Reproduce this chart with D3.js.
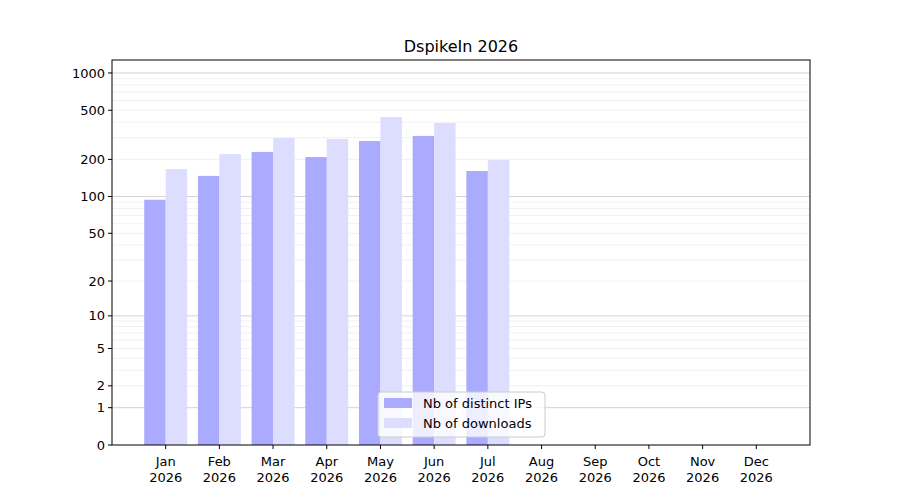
<!DOCTYPE html><html><head><meta charset="utf-8">
<script src="https://cdn.jsdelivr.net/npm/d3@7"></script>
<style>body{margin:0;background:#fff}text{font-family:"DejaVu Sans",sans-serif}</style></head><body>
<svg id="c" width="900" height="500"></svg>
<script>
const months=["Jan","Feb","Mar","Apr","May","Jun","Jul","Aug","Sep","Oct","Nov","Dec"];
const ips=[94,147,230,209,282,310,161];
const downloads=[167,221,298,293,441,394,198];
const yTicks=[0,1,2,5,10,20,50,100,200,500,1000];
const title="DspikeIn 2026";
const svg=d3.select("#c");
const L=112,R=810,T=60,B=445;
const x=d3.scaleLinear().domain([-1,12]).range([L,R]);
const f=v=>Math.log10(v+1);
const y=d3.scaleLinear().domain([0,3.105]).range([B,T]);
const yv=v=>y(f(v));
const minor=[];for(const d of [1,10,100])for(let k=2;k<=9;k++)minor.push(d*k);
svg.append("g").selectAll("line").data(minor).join("line").attr("x1",L).attr("x2",R)
 .attr("y1",d=>yv(d)).attr("y2",d=>yv(d)).attr("stroke","#eeeeee").attr("stroke-width",0.8);
svg.append("g").selectAll("line").data([1,10,100,1000]).join("line").attr("x1",L).attr("x2",R)
 .attr("y1",d=>yv(d)).attr("y2",d=>yv(d)).attr("stroke","#c8c8c8").attr("stroke-width",0.8);
const bw=(x(1)-x(0))*0.4;
svg.append("g").selectAll("rect").data(ips).join("rect").attr("x",(d,i)=>x(i)-bw).attr("width",bw)
 .attr("y",d=>yv(d)).attr("height",d=>B-yv(d)).attr("fill","#aaaaff");
svg.append("g").selectAll("rect").data(downloads).join("rect").attr("x",(d,i)=>x(i)).attr("width",bw)
 .attr("y",d=>yv(d)).attr("height",d=>B-yv(d)).attr("fill","#ddddff");
svg.append("rect").attr("x",L).attr("y",T).attr("width",R-L).attr("height",B-T).attr("fill","none").attr("stroke","#000");
const ya=svg.append("g");
yTicks.forEach(t=>{const yy=yv(t);
 ya.append("line").attr("x1",L-4).attr("x2",L).attr("y1",yy).attr("y2",yy).attr("stroke","#000");
 ya.append("text").attr("x",L-7).attr("y",yy).attr("dy","0.35em").attr("text-anchor","end").attr("font-size",13).text(t);});
months.forEach((m,i)=>{const xx=x(i);
 svg.append("line").attr("x1",xx).attr("x2",xx).attr("y1",B).attr("y2",B+4).attr("stroke","#000");
 const t=svg.append("text").attr("x",xx).attr("y",B+21).attr("text-anchor","middle").attr("font-size",13);
 t.append("tspan").attr("x",xx).text(m);t.append("tspan").attr("x",xx).attr("dy",16).text("2026");});
svg.append("text").attr("x",(L+R)/2).attr("y",52).attr("text-anchor","middle").attr("font-size",16).text(title);
const lg=svg.append("g");
lg.append("rect").attr("x",378).attr("y",392).attr("width",167).attr("height",45).attr("rx",3)
 .attr("fill","#fff").attr("fill-opacity",0.8).attr("stroke","#ccc");
[["Nb of distinct IPs","#aaaaff"],["Nb of downloads","#ddddff"]].forEach((d,i)=>{
 lg.append("rect").attr("x",384).attr("y",398+i*20).attr("width",28).attr("height",10).attr("fill",d[1]);
 lg.append("text").attr("x",423).attr("y",403+i*20).attr("dy","0.35em").attr("font-size",13).text(d[0]);});
</script></body></html>
